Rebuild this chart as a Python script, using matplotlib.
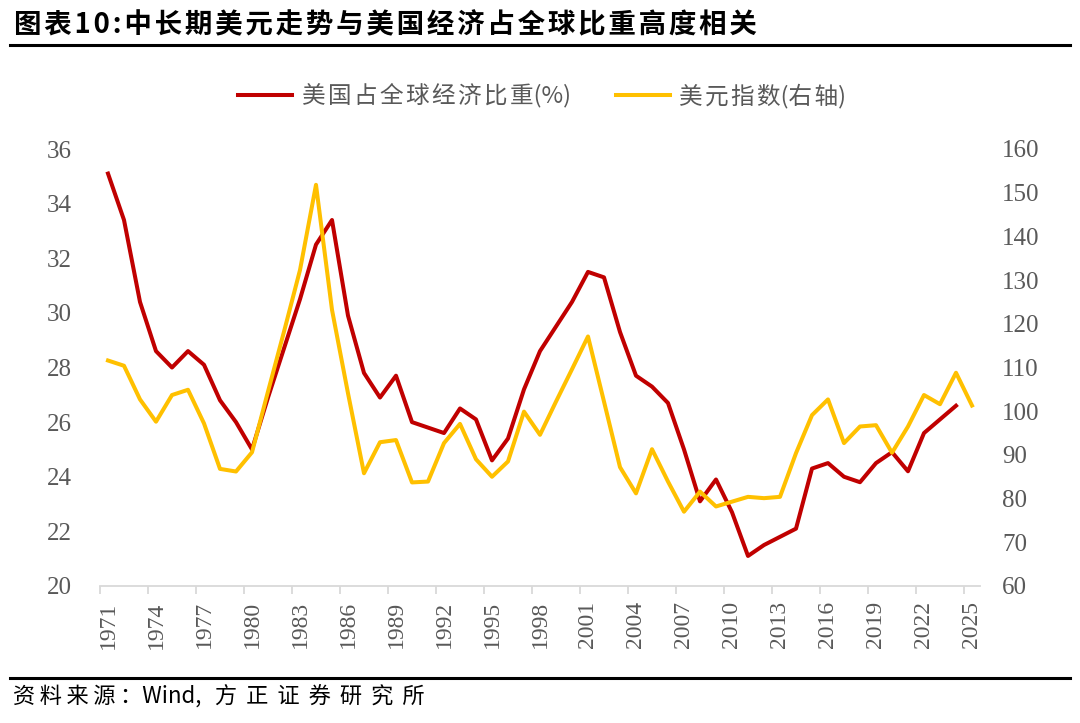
import matplotlib
matplotlib.use("Agg")
import matplotlib.pyplot as plt
from matplotlib.lines import Line2D
import numpy as np

plt.rcParams['font.family'] = ['Noto Sans CJK SC', 'DejaVu Sans']

# 年份 1971-2025
years = list(range(1971, 2026))

# 美国占全球经济比重(%)，左轴，到2024年
us_share = [35.1, 33.4, 30.4, 28.6, 28.0, 28.6, 28.1, 26.8, 26.0, 25.0,
            26.9, 28.7, 30.5, 32.5, 33.4, 29.9, 27.8, 26.9, 27.7, 26.0,
            25.8, 25.6, 26.5, 26.1, 24.6, 25.4, 27.2, 28.6, 29.5, 30.4,
            31.5, 31.3, 29.3, 27.7, 27.3, 26.7, 25.0, 23.1, 23.9, 22.7,
            21.1, 21.5, 21.8, 22.1, 24.3, 24.5, 24.0, 23.8, 24.5, 24.9,
            24.2, 25.6, 26.1, 26.6]

# 美元指数，右轴
dxy = [111.6, 110.4, 102.7, 97.6, 103.7, 104.9, 97.2, 86.8, 86.2, 90.6,
       104.5, 118.2, 132.3, 151.8, 123.2, 104.1, 85.8, 92.9, 93.4, 83.7,
       83.9, 92.7, 97.1, 89.0, 85.0, 88.5, 99.9, 94.6, 102.2, 109.6,
       117.1, 102.2, 87.2, 81.2, 91.3, 83.9, 77.0, 81.6, 78.2, 79.3,
       80.4, 80.1, 80.4, 90.4, 99.1, 102.7, 92.7, 96.5, 96.8, 90.5,
       96.5, 103.7, 101.6, 108.8, 101.3]

label_years = years[::3]
left_ticks = [20, 22, 24, 26, 28, 30, 32, 34, 36]
right_ticks = [60, 70, 80, 90, 100, 110, 120, 130, 140, 150, 160]

RED = '#C00000'
GOLD = '#FFC000'
GRAY = '#595959'
SERIF = ['Liberation Serif', 'DejaVu Serif']
HAIR = '\u200a'


def spread(s, n):
    # 在字符之间插入细空格，模拟原图较宽的字距
    return (HAIR * n).join(s)


fig = plt.figure(figsize=(10.8, 7.23), dpi=100)
ax = fig.add_axes([100 / 1080, 137 / 723, 880 / 1080, 437 / 723])
ax2 = ax.twinx()

# 右轴系列画在上层（与原图一致）
x = np.arange(len(years))
l1, = ax.plot(x[:len(us_share)], us_share, color=RED, lw=2.9,
              label=spread('美国占全球经济比重', 1) + '(%)')
l2, = ax2.plot(x, dxy, color=GOLD, lw=2.9,
               label=spread('美元指数', 1) + '(右' + HAIR + '轴)')

ax.set_xlim(-0.5, len(years) - 0.5)
ax.set_ylim(20, 36)
ax2.set_ylim(60, 160)

# x 轴：刻度线在类别边界，标签在类别中心
ax.set_xticks(np.arange(-0.5, len(years), 3))
ax.set_xticklabels([])
ax.set_xticks([years.index(y) for y in label_years], minor=True)
ax.set_xticklabels([str(y) for y in label_years], minor=True, rotation=90,
                   family=SERIF, fontsize=17, color=GRAY)
ax.tick_params(axis='x', which='major', length=6, width=1.3, color='#D9D9D9',
               direction='out')
ax.tick_params(axis='x', which='minor', length=0, pad=11)

ax.set_yticks(left_ticks)
ax.set_yticklabels([str(v) for v in left_ticks], family=SERIF, fontsize=18,
                   color=GRAY)
ax.tick_params(axis='y', length=0, pad=20)
ax2.set_yticks(right_ticks)
ax2.set_yticklabels([str(v) for v in right_ticks], family=SERIF, fontsize=18,
                    color=GRAY)
ax2.tick_params(axis='y', length=0, pad=16)

for a in (ax, ax2):
    for s in ('top', 'left', 'right', 'bottom'):
        a.spines[s].set_visible(False)
ax.spines['bottom'].set_visible(True)
ax.spines['bottom'].set_color('#D9D9D9')
ax.spines['bottom'].set_linewidth(1.3)

# 图例
fig.legend(handles=[l1, l2], loc='center', bbox_to_anchor=(0.502, 0.867),
           ncol=2, frameon=False, handlelength=2.3, columnspacing=1.9,
           handletextpad=0.4, prop={'size': 17}, labelcolor=GRAY)

# 标题与上下分隔线
fig.text(0.013, 0.965, spread('图表10:中长期美元走势与美国经济占全球比重高度相关', 1),
         fontsize=19.8, fontweight='bold', color='black', va='center', ha='left')
fig.add_artist(Line2D([0.009, 0.991], [1 - 45 / 723] * 2, color='black', lw=2.2,
                      transform=fig.transFigure))
fig.add_artist(Line2D([0.009, 0.991], [1 - 678 / 723] * 2, color='black', lw=2.2,
                      transform=fig.transFigure))
fig.text(0.012, 1 - 697 / 723,
         spread('资料来源：', 2) + 'Wind,' + HAIR * 6 + spread('方正证券研究所', 4),
         fontsize=16, color='black', va='center', ha='left')

fig.savefig('out.png', dpi=100)
